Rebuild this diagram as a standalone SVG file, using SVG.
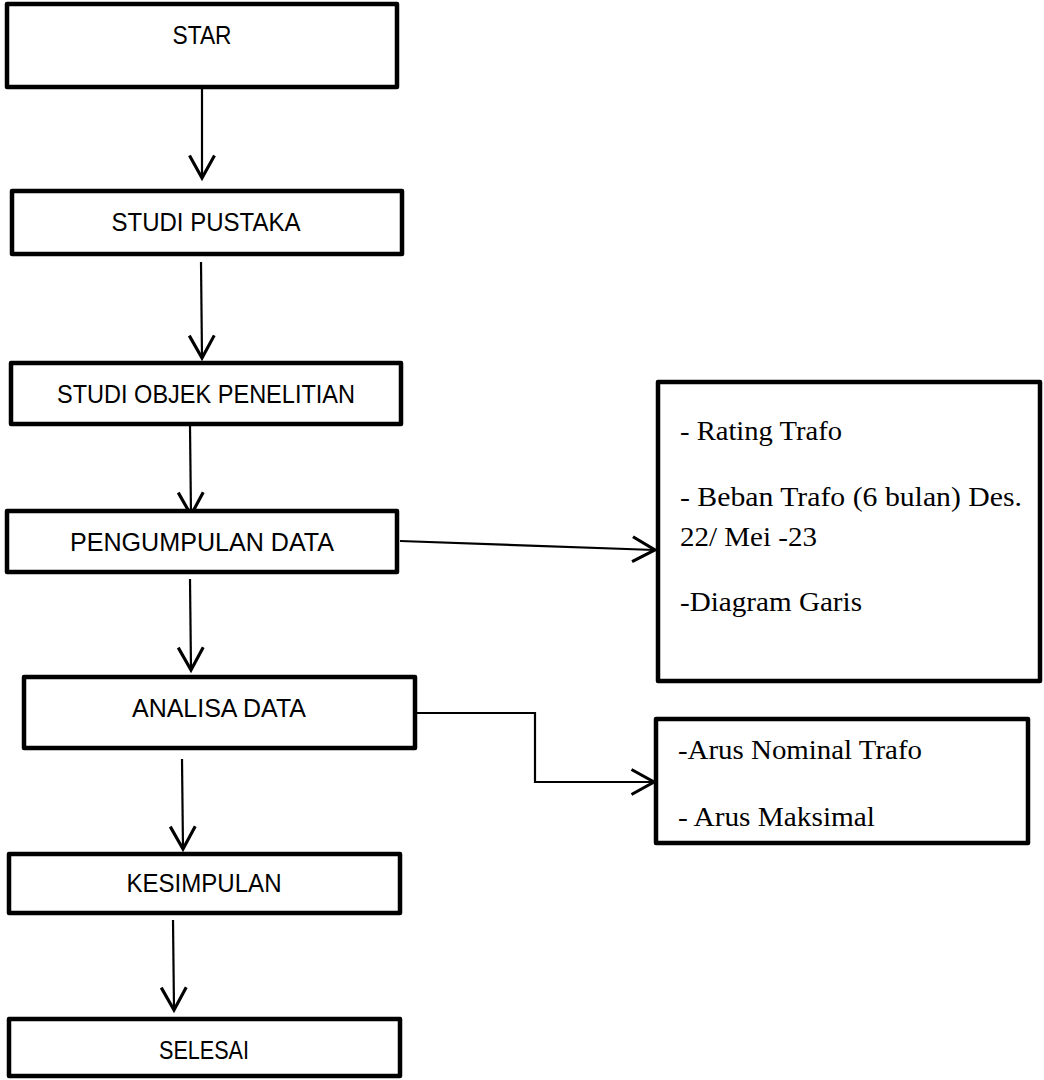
<svg xmlns="http://www.w3.org/2000/svg" width="1044" height="1080" viewBox="0 0 1044 1080">
<style>
.box{fill:#fff;stroke:#000;stroke-width:4.5;stroke-linejoin:round}
.lbl{font-family:"Liberation Sans",Arial,sans-serif;font-size:25.5px;fill:#000;text-anchor:middle}
.note{font-family:"Liberation Serif","Times New Roman",serif;font-size:28px;fill:#000}
.con{fill:none;stroke:#000;stroke-width:2.2;marker-end:url(#arr)}
</style>
<defs>
<marker id="arr" markerUnits="userSpaceOnUse" markerWidth="30" markerHeight="30" viewBox="-20 -12 22 24" refX="0" refY="0" orient="auto">
<path d="M-18,-10 L0,0 L-18,10" fill="none" stroke="#000" stroke-width="2.5" stroke-linejoin="miter"/>
</marker>
</defs>
<rect width="1044" height="1080" fill="#fff"/>
<g id="connectors">
<path class="con" d="M202,89 L202,178"/>
<path class="con" d="M201,262 L202,358"/>
<path class="con" d="M190,426 L191,515"/>
<path class="con" d="M190,579 L191,670"/>
<path class="con" d="M182,759 L183,849"/>
<path class="con" d="M173,920 L174,1010"/>
<path class="con" d="M400,541 L655,550"/>
<path class="con" d="M415,713 L535,713 L535,782 L654,782"/>
</g>
<g id="star"><rect class="box" x="7" y="4" width="390" height="83"/><text class="lbl" x="202" y="44" textLength="59" lengthAdjust="spacingAndGlyphs">STAR</text></g>
<g id="studi-pustaka"><rect class="box" x="12" y="191" width="390" height="63"/><text class="lbl" x="206" y="231" textLength="189" lengthAdjust="spacingAndGlyphs">STUDI PUSTAKA</text></g>
<g id="studi-objek"><rect class="box" x="11" y="363" width="390" height="61"/><text class="lbl" x="206" y="403" textLength="298" lengthAdjust="spacingAndGlyphs">STUDI OBJEK PENELITIAN</text></g>
<g id="pengumpulan"><rect class="box" x="7" y="511" width="390" height="61"/><text class="lbl" x="202" y="551" textLength="264" lengthAdjust="spacingAndGlyphs">PENGUMPULAN DATA</text></g>
<g id="analisa"><rect class="box" x="24" y="677" width="391" height="71"/><text class="lbl" x="219" y="717" textLength="174" lengthAdjust="spacingAndGlyphs">ANALISA DATA</text></g>
<g id="kesimpulan"><rect class="box" x="9" y="854" width="391" height="59"/><text class="lbl" x="204" y="892" textLength="155" lengthAdjust="spacingAndGlyphs">KESIMPULAN</text></g>
<g id="selesai"><rect class="box" x="9" y="1019" width="391" height="57"/><text class="lbl" x="204" y="1059" textLength="90" lengthAdjust="spacingAndGlyphs">SELESAI</text></g>
<g id="data-list"><rect class="box" x="658" y="382" width="382" height="299"/>
<text class="note" x="680" y="440" textLength="162" lengthAdjust="spacingAndGlyphs">- Rating Trafo</text>
<text class="note" x="680" y="506" textLength="342" lengthAdjust="spacingAndGlyphs">- Beban Trafo (6 bulan) Des.</text>
<text class="note" x="680" y="546" textLength="137" lengthAdjust="spacingAndGlyphs">22/ Mei -23</text>
<text class="note" x="680" y="611" textLength="182" lengthAdjust="spacingAndGlyphs">-Diagram Garis</text>
</g>
<g id="analisa-list"><rect class="box" x="656" y="719" width="372" height="124"/>
<text class="note" x="678" y="759" textLength="244" lengthAdjust="spacingAndGlyphs">-Arus Nominal Trafo</text>
<text class="note" x="678" y="826" textLength="197" lengthAdjust="spacingAndGlyphs">- Arus Maksimal</text>
</g>
</svg>
